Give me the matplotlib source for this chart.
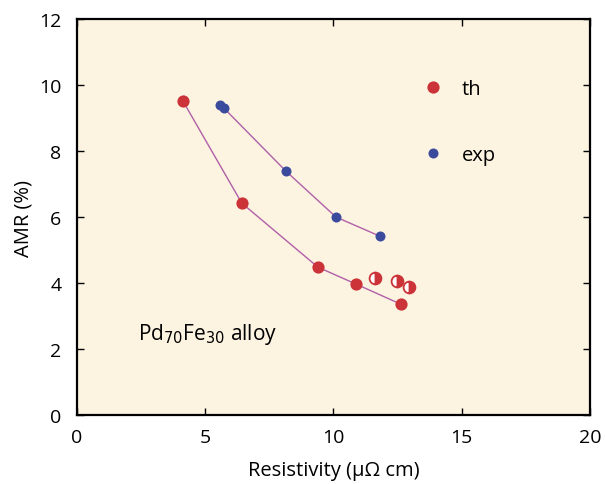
import matplotlib
matplotlib.use('Agg')
from matplotlib import pyplot as plt

# datos
th_x = [4.13, 6.43, 9.40, 10.88, 12.63]
th_y = [9.52, 6.42, 4.48, 3.97, 3.36]
half_x = [11.62, 12.48, 12.94]
half_y = [4.15, 4.06, 3.88]
exp_x = [5.58, 5.73, 8.15, 10.10, 11.81]
exp_y = [9.39, 9.30, 7.39, 6.00, 5.42]

x_ticks = [0, 5, 10, 15, 20]
y_ticks = [0, 2, 4, 6, 8, 10, 12]

plt.rcParams['font.family'] = ['Open Sans', 'DejaVu Sans']

rojo = '#cc3338'
azul = '#3a4a9c'
linea = '#b060a8'

fig = plt.figure(figsize=(6.05, 4.85), dpi=100)
ax = fig.add_axes([0.127, 0.142, 0.848, 0.817])
ax.set_facecolor('#fdf3e1')

ax.plot(th_x, th_y, color=linea, lw=1, zorder=1)
ax.plot(exp_x, exp_y, color=linea, lw=1, zorder=1)
ax.plot(th_x, th_y, 'o', ls='none', color=rojo, ms=8.8, mec='none', label='th', zorder=2)
ax.plot(exp_x, exp_y, 'o', ls='none', color=azul, ms=7.2, mec='none', label='exp', zorder=2)
ax.plot(half_x, half_y, 'o', ls='none', ms=8.5, fillstyle='right', markerfacecolor=rojo,
        markerfacecoloralt='white', markeredgecolor=rojo, mew=1.3, zorder=2)

ax.text(2.38, 2.3, r'Pd$_{70}$Fe$_{30}$ alloy', fontsize=15)

ax.legend(loc='upper left', bbox_to_anchor=(0.62, 0.895), frameon=False, fontsize=14.5,
          labelspacing=2.3, handletextpad=0.4, numpoints=1)

ax.set_xlim(0, 20)
ax.set_ylim(0, 12)
ax.set_xticks(x_ticks)
ax.set_yticks(y_ticks)
ax.tick_params(direction='in', top=True, right=True, labelsize=14, length=5, width=1)
ax.tick_params(axis='x', pad=9)
ax.tick_params(axis='y', pad=11)
for s in ax.spines.values():
    s.set_linewidth(1.6)
ax.set_xlabel('Resistivity (μΩ cm)', fontsize=14.5, labelpad=10)
ax.set_ylabel('AMR (%)', fontsize=14.5, labelpad=4)

plt.savefig('out.png', dpi=100)
